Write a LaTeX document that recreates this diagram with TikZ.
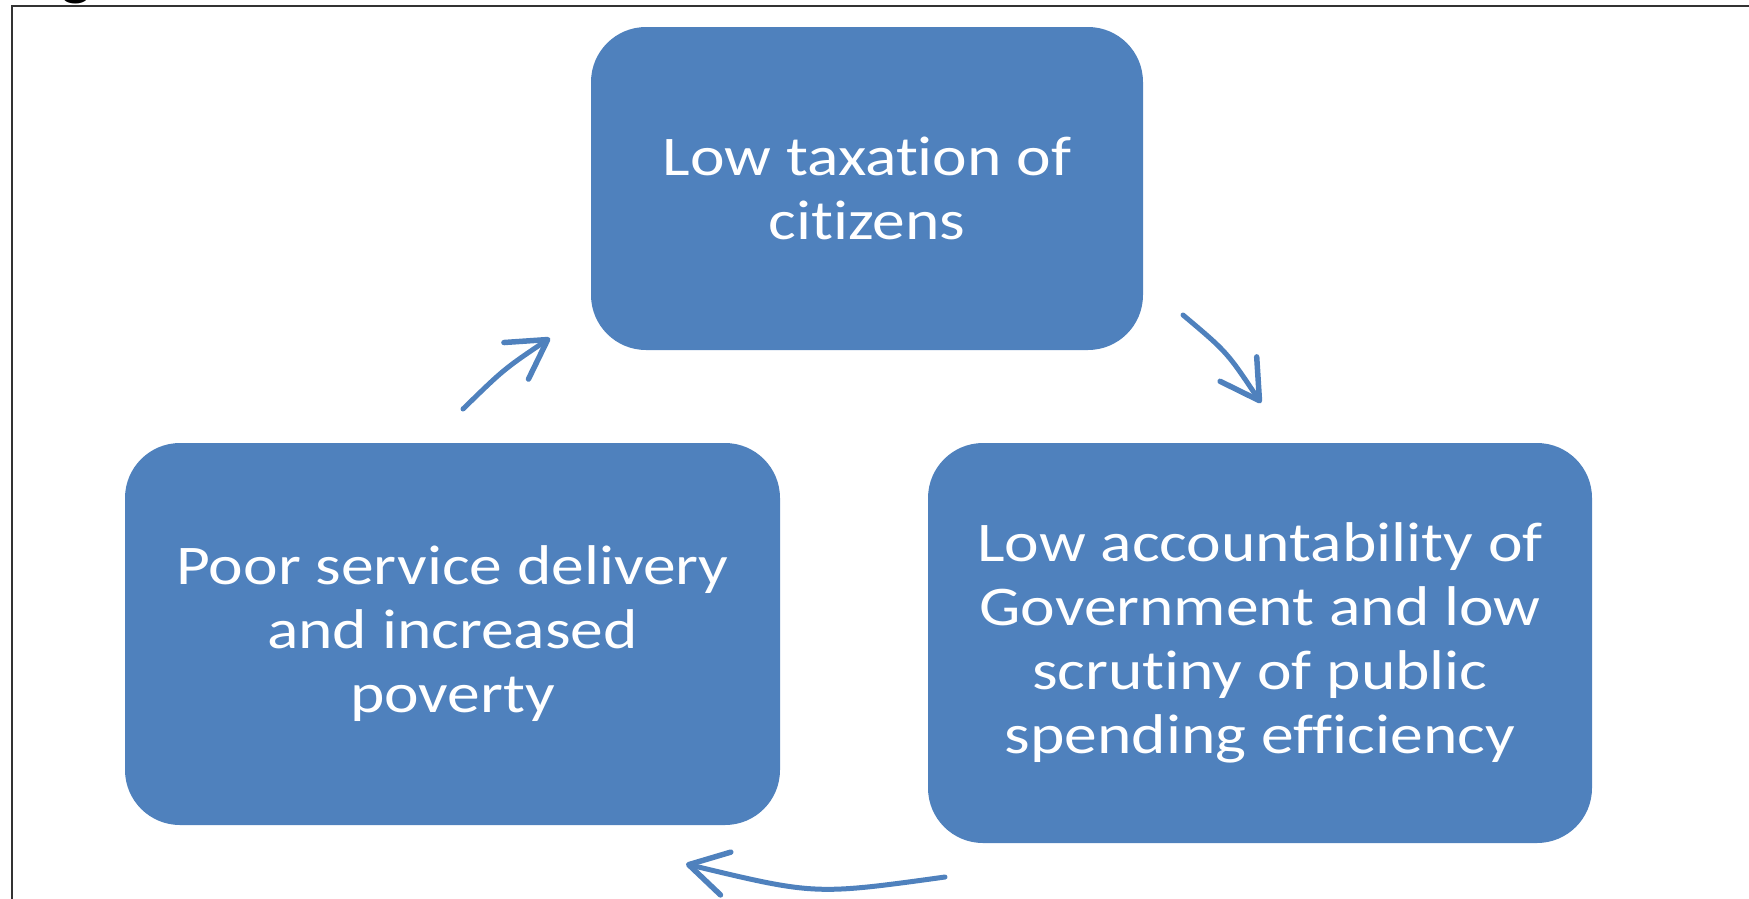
\documentclass[tikz,border=0pt]{standalone}
\usepackage{fontspec}
% Carlito without its ligatures (plain "ff", "fi")
\setmainfont{Carlito}[FakeStretch=1.17, RawFeature={-liga;-clig;-calt;-dlig}]
% "t" and "i" set as two separate letters
\newcommand{\tiapart}{t\kern0pt i}
\usetikzlibrary{arrows.meta}
\definecolor{cycleblue}{HTML}{4F81BD}
\definecolor{framegray}{HTML}{333333}
\begin{document}
\begin{tikzpicture}[x=1pt,y=-1pt,
  stage/.style={fill=cycleblue, draw=none, rounded corners=55pt, text=white,
    align=center, inner sep=0pt, font=\fontsize{56}{64}\selectfont},
  flow/.style={draw=cycleblue, line width=5pt, line cap=round,
    -{Straight Barb[length=38pt,width=44pt,line width=5.5pt,round]}}]
\useasboundingbox (0,0) rectangle (1749,898);

% frame and the caption letter cut by the top edge
\begin{scope}
  \clip (0,0) rectangle (1749,898);
  \node[anchor=base, inner sep=0pt, font=\fontsize{50}{60}\selectfont\bfseries] (caption) at (76,-5) {g};
  \draw[framegray, line width=2.5pt] (12,920) -- (12,6) -- (1770,6);
\end{scope}

% the three stages of the cycle
\node[stage, minimum width=552pt, minimum height=323pt] (tax) at (867,188.5)
  {Low taxa\tiapart{}on of\\ci\tiapart{}zens};
\node[stage, minimum width=664pt, minimum height=400pt] (account) at (1260,643)
  {Low accountability of\\Government and low\\scru\tiapart{}ny of public\\spending efficiency};
\node[stage, minimum width=655pt, minimum height=382pt] (poverty) at (452.5,634)
  {Poor service delivery\\and increased\\poverty};

% curved arrows between the stages
\coordinate (a1s) at (463,409);  \coordinate (a1c) at (504,369);  \coordinate (a1e) at (550,338);
\coordinate (a2s) at (1183,315); \coordinate (a2c) at (1227,352); \coordinate (a2e) at (1261,403);
\coordinate (a3s) at (945,877);  \coordinate (a3c) at (815,895);  \coordinate (a3e) at (686,864);

\draw[flow] (a1s) .. controls (a1c) .. (a1e);
\draw[flow] (a2s) .. controls (a2c) .. (a2e);
\draw[flow] (a3s) .. controls (a3c) .. (a3e);
\end{tikzpicture}
\end{document}
